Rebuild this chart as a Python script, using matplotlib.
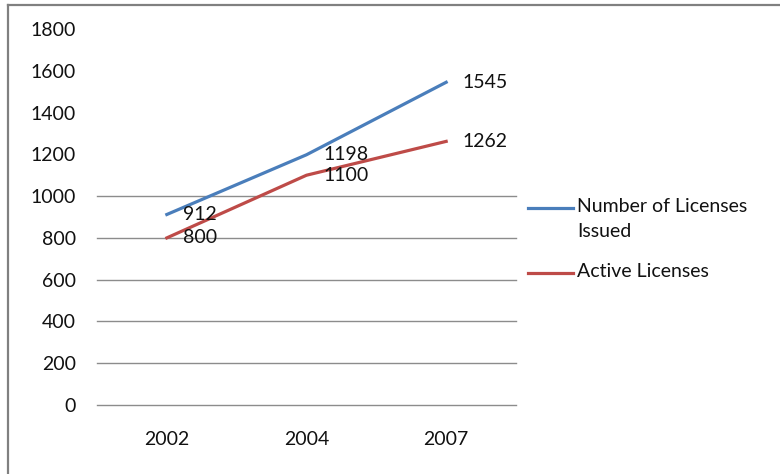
import matplotlib.pyplot as plt
from matplotlib.lines import Line2D

plt.rcParams['font.family'] = ['Lato', 'DejaVu Sans']

years = ['2002', '2004', '2007']
issued = [912, 1198, 1545]
active = [800, 1100, 1262]
y_ticks = [0, 200, 400, 600, 800, 1000, 1200, 1400, 1600, 1800]
grid_levels = [0, 200, 400, 600, 800, 1000]
series_names = ['Number of Licenses\nIssued', 'Active Licenses']

blue = '#4a7ebb'
red = '#be4b48'
fs = 14

fig = plt.figure(figsize=(7.8, 4.74), dpi=100)
ax = fig.add_axes([97 / 780, 1 - 405 / 474, (516 - 97) / 780, (405 - 29) / 474])

# gridlines (only the lower ones are visible in the original)
for g in grid_levels:
    ax.axhline(g, color='#8c8c8c', lw=1.0, zorder=1, clip_on=False)

x = range(len(years))
ax.plot(x, issued, color=blue, lw=2.3, zorder=3)
ax.plot(x, active, color=red, lw=2.3, zorder=3)

for i, v in enumerate(issued):
    ax.annotate(str(v), (i, v), xytext=(12, 0), textcoords='offset points',
                va='center', ha='left', fontsize=fs, color='#111111', zorder=4)
for i, v in enumerate(active):
    ax.annotate(str(v), (i, v), xytext=(12, 0), textcoords='offset points',
                va='center', ha='left', fontsize=fs, color='#111111', zorder=4)

ax.set_xlim(-0.5, len(years) - 0.5)
ax.set_ylim(0, 1800)
ax.set_xticks(list(x))
ax.set_xticklabels(years)
ax.set_yticks(y_ticks)
ax.tick_params(axis='y', length=0, pad=15, labelsize=fs, labelcolor='#111111')
ax.tick_params(axis='x', length=0, pad=19, labelsize=fs, labelcolor='#111111')
for s in ax.spines.values():
    s.set_visible(False)

# legend drawn by hand so the key sits on the first text line
leg_y = [1 - 208 / 474, 1 - 273 / 474]
for name, col, yy in zip(series_names, [blue, red], leg_y):
    fig.add_artist(Line2D([528 / 780, 573 / 780], [yy, yy], color=col, lw=2.3,
                          transform=fig.transFigure))
    fig.text(577 / 780, yy + 10 / 474, name, fontsize=fs, color='#111111',
             va='top', ha='left', linespacing=1.6)

# chart border (top and left edges visible)
fig.add_artist(Line2D([8 / 780, 1.0], [1 - 5 / 474, 1 - 5 / 474], color='#808080', lw=1.6,
                      transform=fig.transFigure))
fig.add_artist(Line2D([8 / 780, 8 / 780], [0, 1 - 5 / 474], color='#808080', lw=1.6,
                      transform=fig.transFigure))

fig.savefig('out.png', dpi=100)
